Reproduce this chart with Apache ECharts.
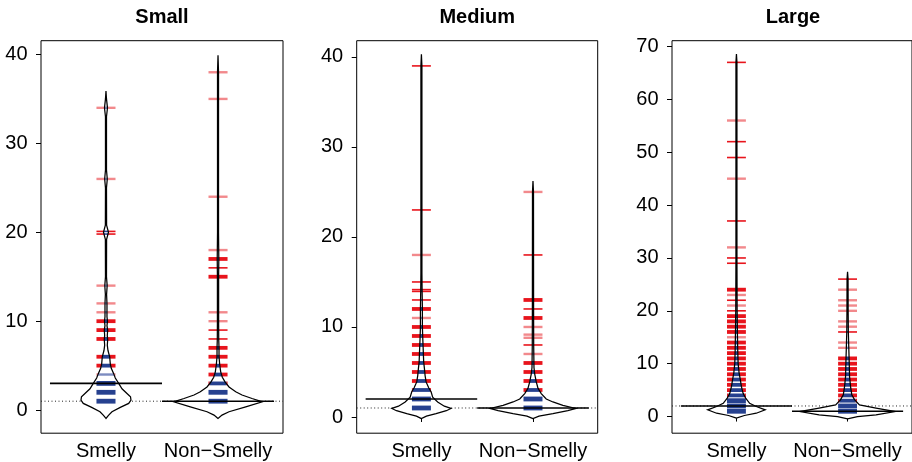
<!DOCTYPE html>
<html><head><meta charset="utf-8">
<script src="https://cdn.jsdelivr.net/npm/echarts@6/dist/echarts.min.js"></script>
<style>html,body{margin:0;padding:0;background:#fff}#c{width:912px;height:462px}</style>
</head><body><div id="c"></div>
<script>
// ---------- data ----------
const categories = ['Smelly', 'Non\u2212Smelly'];
const panelTitles = ['Small', 'Medium', 'Large'];
const yTicks = [[0, 10, 20, 30, 40], [0, 10, 20, 30, 40], [0, 10, 20, 30, 40, 50, 60, 70]];
const overallAvg = [1, 1, 2];
const beanAvg = [[3, 1], [2, 1], [2, 1]];

// bean lines: observed values and how heavily they are drawn (1 single, 2 few, 3 many)
const smallSmellyValues = [34, 26, 20.1, 19.8, 14, 12, 11, 10, 9, 8, 6, 5, 4, 3, 2, 1];
const smallSmellyWeights = [1, 1, 2, 2, 1, 1, 1, 3, 3, 3, 3, 3, 1, 3, 3, 3];
const smallNonSmellyValues = [38, 35, 24, 18, 17, 16, 15, 11, 10, 9, 8, 7, 6, 5, 4, 3, 2, 1];
const smallNonSmellyWeights = [1, 1, 1, 1, 3, 2, 3, 1, 1, 2, 2, 3, 3, 3, 3, 3, 3, 3];
const mediumSmellyValues = [39, 23, 18, 15, 14.15, 13.95, 13, 12, 11, 10, 9, 8, 7, 6, 5, 4, 3, 2, 1];
const mediumSmellyWeights = [2, 2, 1, 2, 2, 2, 2, 3, 1, 3, 3, 3, 3, 3, 3, 3, 3, 3, 3];
const mediumNonSmellyValues = [25, 18, 13, 12, 11, 10, 9.15, 8.8, 8, 7, 6, 5, 4, 3, 2, 1];
const mediumNonSmellyWeights = [1, 2, 3, 2, 3, 1, 1, 1, 2, 1, 3, 3, 3, 3, 3, 3];
const largeSmellyValues = [67, 56, 52, 49, 45, 37, 32, 30, 29, 24, 23, 22, 21, 20, 19, 18, 17, 16, 15, 14, 13, 12, 11, 10, 9, 8, 7, 6, 5, 4, 3, 2, 1];
const largeSmellyWeights = [2, 1, 2, 2, 1, 2, 1, 2, 2, 3, 1, 2, 1, 2, 3, 3, 3, 3, 1, 3, 3, 3, 3, 3, 3, 3, 3, 3, 3, 3, 3, 3, 3];
const largeNonSmellyValues = [26, 24, 22, 21, 20, 18, 17, 16, 14, 13, 11, 10, 9, 8, 7, 6, 5, 4, 3, 2, 1];
const largeNonSmellyWeights = [2, 1, 1, 1, 1, 1, 1, 2, 1, 1, 3, 3, 3, 3, 3, 3, 3, 3, 3, 3, 3];

// bean outlines: [value, half width of density in category units]
const smallSmellyOutline = [[-0.94,0],[-0.6,0.0223],[-0.19,0.0536],[0.3,0.1277],[0.75,0.2027],[1.12,0.2232],[1.5,0.2188],[1.87,0.1875],[2.4,0.1429],[3,0.1134],[3.6,0.083],[4.1,0.0688],[4.7,0.0473],[5.2,0.0384],[6,0.033],[6.7,0.0179],[7.3,0.0116],[7.9,0.0152],[8.4,0.0116],[9,0.0152],[9.5,0.0089],[10,0.0134],[10.5,0.0089],[12,0.0089],[13,0.0054],[14,0.0107],[15,0.0045],[19.2,0.0054],[20,0.0223],[20.8,0.0054],[25,0.0045],[26,0.0116],[27,0.0045],[33,0.0045],[34,0.0134],[35,0.0045],[35.9,0]];
const smallNonSmellyOutline = [[-0.94,0],[-0.56,0.0357],[-0.19,0.0982],[0.37,0.2473],[0.93,0.3955],[1.3,0.3036],[1.7,0.2143],[2.06,0.158],[2.6,0.0982],[3.18,0.0625],[3.7,0.0384],[4.3,0.0241],[5.1,0.0152],[6,0.0089],[7,0.0089],[8,0.0063],[10,0.0054],[15,0.0054],[17,0.0071],[20,0.0045],[38,0.0045],[39.9,0]];
const mediumSmellyOutline = [[-0.18,0],[0.1,0.0446],[0.37,0.1313],[0.7,0.2232],[0.95,0.2652],[1.2,0.2054],[1.67,0.1455],[2.2,0.1009],[2.8,0.0866],[3.25,0.0652],[3.9,0.042],[4.6,0.033],[5.4,0.0268],[6.1,0.0205],[6.9,0.0179],[7.8,0.0152],[8.9,0.0116],[10,0.0089],[12,0.0089],[14,0.0063],[16,0.0045],[39,0.0045],[40.3,0]];
const mediumNonSmellyOutline = [[-0.18,0],[0.1,0.0536],[0.37,0.1786],[0.7,0.3125],[0.95,0.3839],[1.3,0.2679],[1.67,0.1786],[2.0,0.1188],[2.6,0.0741],[3.2,0.0446],[3.9,0.0295],[4.8,0.0152],[5.5,0.0089],[8,0.0063],[12,0.0054],[25,0.0045],[26.2,0]];
const largeSmellyOutline = [[-0.3,0],[0.2,0.0714],[0.63,0.1786],[1.27,0.2589],[1.9,0.1786],[2.5,0.1188],[3.5,0.083],[4.4,0.0598],[5.7,0.0446],[6.9,0.0357],[8.2,0.0241],[10,0.0152],[12.5,0.0116],[15.7,0.0089],[20,0.0063],[30,0.0045],[67,0.0045],[68.6,0]];
const largeNonSmellyOutline = [[-0.44,0],[0,0.0893],[0.32,0.2563],[0.95,0.4286],[1.6,0.2563],[2.2,0.1071],[3.2,0.0625],[4.1,0.0384],[5.7,0.0268],[7.6,0.0179],[10.1,0.0152],[12.6,0.0116],[16,0.0071],[20,0.0054],[26,0.0045],[27.4,0]];

// ---------- build ----------
const beans = [
  [{values: smallSmellyValues, weights: smallSmellyWeights, outline: smallSmellyOutline},
   {values: smallNonSmellyValues, weights: smallNonSmellyWeights, outline: smallNonSmellyOutline}],
  [{values: mediumSmellyValues, weights: mediumSmellyWeights, outline: mediumSmellyOutline},
   {values: mediumNonSmellyValues, weights: mediumNonSmellyWeights, outline: mediumNonSmellyOutline}],
  [{values: largeSmellyValues, weights: largeSmellyWeights, outline: largeSmellyOutline},
   {values: largeNonSmellyValues, weights: largeNonSmellyWeights, outline: largeNonSmellyOutline}]
];

const X_MIN = 0.42, X_MAX = 2.58;
const LINE_HALF = 0.085, AVG_HALF = 0.5;
const FONT = '"Liberation Sans", Arial, Helvetica, sans-serif';

function widthAt(outline, v) {
  if (v <= outline[0][0] || v >= outline[outline.length - 1][0]) return 0;
  for (let i = 1; i < outline.length; i++) {
    const a = outline[i - 1], b = outline[i];
    if (v <= b[0]) return a[1] + (b[1] - a[1]) * (v - a[0]) / (b[0] - a[0]);
  }
  return 0;
}
function lineStyle(w) {
  if (w === 1) return {w: 2.4, red: 'rgba(232,40,46,0.55)', blue: 'rgba(38,64,150,0.6)'};
  if (w === 2) return {w: 1.6, red: '#e8141c', blue: '#2a4595'};
  return {w: 3.8, red: '#e8141c', blue: '#26418f'};
}

function makeRender(panel) {
  return function (params, api) {
    const k = params.dataIndex;
    const b = beans[panel][k];
    const cx = api.value(0);
    const children = [];
    const seg = (x1, x2, v, col, lw, dash) => {
      const p1 = api.coord([x1, v]), p2 = api.coord([x2, v]);
      const st = {stroke: col, lineWidth: lw, fill: null};
      if (dash) st.lineDash = dash;
      children.push({type: 'line', shape: {x1: p1[0], y1: p1[1], x2: p2[0], y2: p2[1]}, style: st});
    };
    if (k === 0) seg(X_MIN, X_MAX, overallAvg[panel], '#222', 1, [1, 2.5]);
    const left = b.outline.map(p => api.coord([cx - p[1], p[0]]));
    const right = b.outline.slice().reverse().map(p => api.coord([cx + p[1], p[0]]));
    const pts = left.concat(right);
    children.push({type: 'polygon', shape: {points: pts}, style: {fill: '#fff', stroke: null}});
    b.values.forEach((v, i) => {
      const w = widthAt(b.outline, v);
      const st = lineStyle(b.weights[i]);
      if (w >= LINE_HALF) {
        seg(cx - LINE_HALF, cx + LINE_HALF, v, st.blue, st.w + (b.weights[i] === 3 ? 1 : 0));
      } else {
        seg(cx - LINE_HALF, cx - w, v, st.red, st.w);
        seg(cx + w, cx + LINE_HALF, v, st.red, st.w);
        if (w > 0.001) seg(cx - w, cx + w, v, st.blue, st.w);
      }
    });
    children.push({type: 'polygon', shape: {points: pts}, style: {fill: null, stroke: '#000', lineWidth: 1.25}});
    seg(cx - AVG_HALF, cx + AVG_HALF, beanAvg[panel][k], '#000', 1.6);
    return {type: 'group', children};
  };
}

const grids = [
  {left: 41, top: 40.7, width: 242, height: 392.5},
  {left: 356.7, top: 40.7, width: 241, height: 392.5},
  {left: 672, top: 40.7, width: 242, height: 392.5}
];
const yRanges = [[-2.6, 41.55], [-1.8, 41.8], [-3.15, 71.1]];
const titleX = [162, 477.2, 793];

const option = {
  animation: false,
  grid: grids.map(g => Object.assign({show: true, borderColor: '#000', borderWidth: 1, backgroundColor: 'transparent'}, g)),
  xAxis: grids.map((g, i) => ({
    gridIndex: i, type: 'value', min: X_MIN, max: X_MAX,
    axisLine: {show: false}, splitLine: {show: false},
    axisTick: {show: true, length: 5, customValues: [1, 2], lineStyle: {color: '#000'}},
    axisLabel: {customValues: [1, 2], formatter: v => categories[Math.round(v) - 1],
      color: '#000', fontSize: 20, fontFamily: FONT, margin: 8, showMinLabel: true, showMaxLabel: true}
  })),
  yAxis: grids.map((g, i) => ({
    gridIndex: i, type: 'value', min: yRanges[i][0], max: yRanges[i][1],
    axisLine: {show: false}, splitLine: {show: false},
    axisTick: {show: true, length: 5, customValues: yTicks[i], lineStyle: {color: '#000'}},
    axisLabel: {customValues: yTicks[i], color: '#000', fontSize: 20, fontFamily: FONT, margin: 13.5,
      showMinLabel: true, showMaxLabel: true}
  })),
  graphic: panelTitles.map((t, i) => ({
    type: 'text', x: titleX[i], y: 17, silent: true,
    style: {text: t, font: 'bold 20px ' + FONT, fill: '#000', textAlign: 'center', textVerticalAlign: 'middle'}
  })),
  series: beans.map((pb, i) => ({
    type: 'custom', coordinateSystem: 'cartesian2d', xAxisIndex: i, yAxisIndex: i,
    silent: true, clip: false,
    data: [[1, 0], [2, 0]], encode: {x: 0, y: 1},
    renderItem: makeRender(i)
  }))
};

const chart = echarts.init(document.getElementById('c'), null, {renderer: 'canvas'});
chart.setOption(option);
</script>
</body></html>
